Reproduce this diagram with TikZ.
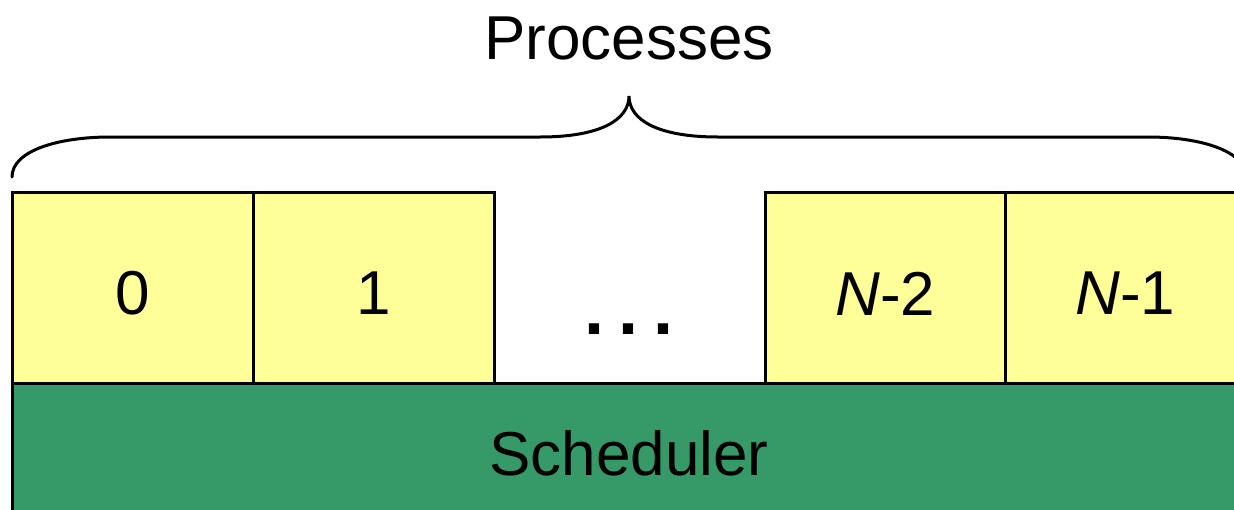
\documentclass[tikz,border=0pt]{standalone}
\usepackage{fontspec}
\setmainfont{Liberation Sans}
\definecolor{procyellow}{RGB}{255,255,153}
\definecolor{schedgreen}{RGB}{54,153,104}
\begin{document}
\begin{tikzpicture}[x=1pt,y=-1pt,
  every node/.style={inner sep=0pt,outer sep=0pt,font=\fontsize{62}{74}\selectfont},
  procbox/.style={draw=black,line width=3pt,fill=procyellow,minimum width=241pt,minimum height=191pt,anchor=north west},
  schedbox/.style={draw=black,line width=3pt,fill=schedgreen,minimum width=1250pt,minimum height=160pt,anchor=north west},
  bracepath/.style={draw=black,line width=3pt,line cap=round}]
  \useasboundingbox (0,0) rectangle (1234,509);
  \clip (0,0) rectangle (1234,509);
  % scheduler layer
  \node[schedbox] (sched) at (12,383) {};
  \node (schedlabel) at (629,453) {Scheduler};
  % process slots
  \node[procbox] (p0) at (12,192) {};
  \node[procbox] (p1) at (253,192) {};
  \node[procbox] (pn2) at (765,192) {};
  \node[procbox] (pn1) at (1005,192) {};
  \node at (p0.center) [yshift=-6pt] {0};
  \node at (p1.center) [yshift=-6pt] {1};
  \node at (pn2.center) [yshift=-6pt] {\textit{N}-2};
  \node at (pn1.center) [yshift=-6pt] {\textit{N}-1};
  \node[anchor=base,font=\fontsize{72}{80}\selectfont\bfseries] (dots) at (629,334) {.\hspace{15pt}.\hspace{15pt}.};
  % brace over the processes
  \coordinate (bl) at (12,177);
  \coordinate (br) at (1246,177);
  \coordinate (tip) at (629,96);
  \draw[bracepath] (bl) .. controls (12,150) and (60,137) .. (110,137)
    -- (540,137) .. controls (600,137) and (629,120) .. (tip)
    .. controls (629,120) and (658,137) .. (718,137)
    -- (1148,137) .. controls (1198,137) and (1246,150) .. (br);
  \node (title) at (629,38) {Processes};
\end{tikzpicture}
\end{document}
